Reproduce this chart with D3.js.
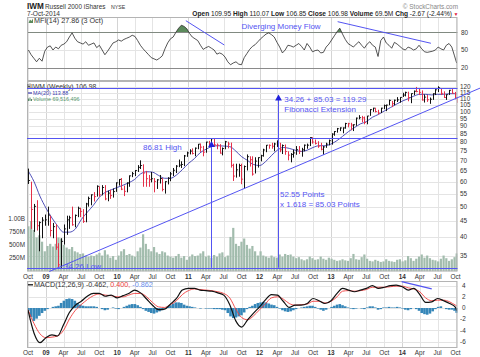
<!DOCTYPE html>
<html><head><meta charset="utf-8">
<script src="https://cdn.jsdelivr.net/npm/d3@7"></script>
<style>
html,body{margin:0;padding:0;background:#fff;}
svg{display:block;font-family:"Liberation Sans",Arial,sans-serif;}
</style></head><body>
<svg id="chart" width="480" height="357"></svg>
<script>
// ---------------- DATA ----------------
const firstBarDate = "2008-10-03";
const barStepDays = 14;
const lastBarDate = "2014-10-07";
const firstMonthDate = "2008-10-01";

const priceHigh = [66,60,51,52.4,44.9,46.3,47.2,50,46.8,44.4,
 44,38.3,39.7,43.9,46.8,46.8,50,47.2,50,49.6,
 49.1,51.4,53.8,54.7,55.6,58.4,58,58.5,58.5,56.2,
 56.6,57.1,59.7,61.1,61.6,58.3,59.7,62.8,64.4,65.3,
 67.7,70.1,68.1,64.9,63,64.4,61.6,61.1,63,61.6,
 60.2,62,64.4,66.3,67.7,70.5,69.6,72.9,74.7,76,
 76.5,77,79,79.3,77.9,80.3,80.8,82.5,82.2,79.3,
 78.9,77,80.8,80.3,79.8,68.4,68.4,68.4,68.4,67.5,
 73.2,72.2,72.2,71.7,71.7,73,76.3,78.4,78.7,79.7,
 79.7,81.1,79.7,78.7,78.7,74.9,73.9,75.8,77.8,77.8,
 76.8,78.7,79.2,83,83,81.6,80.6,79.7,77.8,79.7,
 81.6,85.4,86.8,88.8,89.2,89.2,92.2,92.2,92.2,91.2,
 95.8,97.5,97,96.5,97,101.9,102.9,102.9,101.4,102.9,
 105.3,105.3,109.2,108.2,109.2,111.2,111.2,114.8,115.7,115.7,
 114.3,116.7,119.8,118.8,116.8,113.4,112.9,110.9,114.4,117.9,
 120.4,118.4,116,113.5,117.2,118,115.5,111];
const priceLow = [59,42.5,41.6,42,36.1,39.7,43.5,43.5,40.2,39.7,
 36.5,32.1,32.0,37.9,40.7,42.5,43.5,43,46.3,46.3,
 44.4,44.6,50,50.5,51.9,53.8,53.8,54.3,52.4,52,
 52.9,53.4,55.7,58.3,56.4,54,55.5,57.8,62,62.5,
 64.4,65.8,57.8,57.8,57.8,59.7,55.5,56.9,59.2,55.9,
 55,58.8,60.2,62.5,63.9,66.7,66.3,67.2,71.9,73.2,
 73.2,72.2,76,74.6,72.2,74.1,77.4,77,77.4,76,
 73.6,72.7,76,76.5,66.5,60.3,61.8,62.2,58.9,57,
 65.1,67,62.7,63.7,66.5,69.6,72,74.4,76.3,76.3,
 74.9,77.3,74.4,73.4,73,70.1,69.1,71.5,73,73.4,
 72,74.9,76.3,77.8,79.2,78.7,76.8,75.4,73,76.8,
 78.2,78.6,83.9,85.8,86.8,85.4,88.3,89.2,87.3,86.8,
 90.2,94.6,92.6,91.2,91.2,97,99.9,99.5,98,99,
 101.9,100.4,104.8,103.4,104.8,107.3,106.8,111.3,111.8,107.9,
 106.4,112.8,115.3,112.9,108.4,106.9,107.4,105.9,109,112.9,
 115.4,112.9,110.5,109,113,114,109.5,106.85];
const priceClose = [60.5,49.0,50.1,43.5,44.5,45.3,45.4,47.0,42.0,43.2,
 37.2,32.7,38.8,42.5,45.4,46.1,43.8,46.9,49.4,48.3,
 44.9,51.0,53.1,54.5,53.8,58.0,54.5,57.5,52.9,55.2,
 54.2,55.8,59.5,61.0,56.8,55.9,59.4,62.6,63.6,65.1,
 66.6,67.5,63.9,61.3,60.9,61.3,60.1,60.8,61.4,56.7,
 60.0,61.5,63.5,65.2,67.2,67.7,68.0,72.4,74.0,75.0,
 73.7,76.6,78.9,77.2,74.4,80.1,78.3,82.1,78.5,78.3,
 73.9,76.4,80.3,79.0,67.6,62.5,65.4,67.5,61.1,67.0,
 72.0,70.4,63.4,69.7,71.5,72.5,75.6,78.3,78.2,77.7,
 79.0,79.5,75.7,78.1,74.8,72.8,73.2,74.0,75.8,74.9,
 75.7,78.3,78.3,82.8,80.1,79.3,77.8,76.0,77.3,78.9,
 80.9,84.9,86.5,88.3,88.8,88.8,91.7,91.6,90.7,90.9,
 95.4,95.7,95.6,92.4,96.9,101.5,102.6,100.1,99.0,102.6,
 104.5,104.9,108.6,106.0,108.7,109.0,111.0,112.9,115.1,110.9,
 114.1,116.1,115.8,115.1,108.9,111.2,109.1,109.5,114.0,117.3,
 119.1,114.3,110.9,113.2,116.9,114.4,110.6,106.98];
const volumeM = [850,950,780,640,680,560,380,480,520,470,
 520,640,620,500,450,420,460,380,360,330,
 340,300,280,300,290,320,350,300,400,320,
 260,290,220,300,380,420,310,330,300,280,
 380,450,700,520,420,380,460,360,330,380,
 360,300,280,260,290,330,260,290,220,280,
 320,290,300,340,380,280,300,260,310,280,
 340,360,270,300,650,820,520,480,560,620,
 500,430,480,380,300,380,300,280,260,300,
 270,260,320,280,330,310,320,280,250,270,
 230,210,230,280,250,220,230,280,240,220,
 260,240,220,200,210,230,210,200,250,330,
 230,220,270,320,240,200,190,220,200,180,
 190,230,200,190,180,220,230,190,210,290,
 250,200,240,280,320,260,300,250,220,210,
 190,240,300,250,200,230,270,340];
const mfiValues = [50,42,36,30,36,31,48,55,57,50,
 55,52,58,60,64,72,79,70,64,62,
 60,64,58,60,62,54,58,50,42,48,
 55,62,64,67,65,68,70,72,75,73,
 66,58,52,47,42,37,35,33,36,40,
 52,62,69,72,80,87,92,90,86,78,
 72,69,66,58,51,54,56,53,50,43,
 45,43,38,30,25,28,30,26,25,37,
 44,51,56,59,64,69,73,77,79,76,
 72,63,55,45,50,58,57,55,58,61,
 56,50,61,55,47,49,50,45,46,55,
 60,67,74,81,87,77,68,61,58,55,
 60,64,58,53,60,64,58,55,39,66,
 72,62,58,53,63,60,56,52,50,55,
 53,50,52,58,52,47,46,47,48,50,
 55,52,50,58,61,55,40,27.86];
const macdHist = [-0.5,-1.6,-2.3,-1.9,-1.4,-0.9,-0.5,-0.2,0.0,0.2,
 0.3,0.4,0.9,1.3,1.6,1.7,1.6,1.3,0.9,0.6,
 0.4,0.3,0.3,0.3,0.3,0.2,0.0,-0.2,-0.4,-0.3,
 0.0,0.1,-0.1,-0.2,0.0,0.2,0.4,0.6,0.7,0.7,
 0.5,0.2,-0.2,-0.5,-0.7,-0.9,-1.0,-0.8,-0.6,-0.4,
 -0.1,0.2,0.5,0.8,1.0,1.0,0.9,0.6,0.4,0.3,
 0.2,0.1,0.0,-0.1,0.0,-0.1,-0.1,-0.1,-0.2,-0.2,
 -0.2,-0.3,-0.4,-0.9,-1.5,-1.8,-1.7,-1.5,-1.3,-0.8,
 -0.2,0.2,0.4,0.7,0.9,1.0,1.1,1.0,0.8,0.6,
 0.5,0.2,-0.1,-0.4,-0.6,-0.7,-0.6,-0.4,-0.2,0.0,
 0.1,0.2,0.3,0.4,0.4,0.2,-0.1,-0.3,-0.5,-0.3,
 0.0,0.2,0.4,0.6,0.7,0.5,0.3,0.1,-0.1,-0.2,
 -0.1,0.0,-0.1,-0.2,0.1,0.3,0.3,0.1,-0.3,-0.2,
 0.1,0.1,0.2,0.1,0.1,0.2,0.1,-0.1,-0.3,-0.4,
 -0.2,0.0,-0.2,-0.5,-0.9,-1.1,-1.2,-1.0,-0.6,-0.2,
 0.2,0.3,0.0,-0.2,-0.3,-0.3,-0.5,-0.862];

// monthly (first of month, last point = last bar date)
const maValues = [65,60,54,49.5,46,43.5,41.5,41.5,42.5,45.5,
 48,50.5,53.5,55.5,56.5,57.5,58.5,59.5,61,63.5,
 64.5,64.3,62.8,61.5,61.5,63,65.5,68.5,71,74,
 76,77.5,78,77.8,77.5,75,72,70,68,67.5,
 69.5,72.5,75.5,77,76.5,75.5,74.8,75.5,77,78,
 78,79,81,83.5,86.5,89,91.5,93,96,98,
 100.5,103,105.5,108,110,112,113.5,113.5,113,113.5,
 113.5,114,114,113.88];
const macdValues = [-0.4,-4.5,-6.2,-5.3,-4.8,-5.0,-3.0,-0.8,0.5,1.2,
 2.1,2.6,2.6,2.1,2.3,1.8,2.2,2.6,3.2,2.7,
 1.6,0.5,-0.3,-0.2,0.7,1.7,3.2,3.5,3.5,3.2,
 3.1,3.0,2.7,2.3,0.6,-2.3,-3.4,-2.1,-0.9,0.2,
 1.5,2.4,2.3,1.2,0.1,0.5,0.5,0.8,1.7,1.3,
 0.8,1.3,2.6,3.5,3.2,2.9,3.2,3.5,4.0,3.5,
 3.7,4.0,4.1,3.8,3.2,3.5,2.4,1.0,1.1,1.7,
 1.3,0.8,0.1,-0.462];
const signalValues = [-0.3,-2.8,-4.6,-5.3,-5.2,-5.0,-4.0,-2.0,-0.4,0.6,
 1.5,2.2,2.5,2.3,2.2,2.0,2.0,2.3,2.6,2.6,
 2.0,1.0,0.2,0.1,0.6,1.3,2.4,3.1,3.4,3.3,
 3.2,3.1,2.9,2.6,1.8,-0.2,-1.7,-2.1,-1.4,-0.3,
 0.8,1.8,2.0,1.6,0.8,0.5,0.6,0.7,1.2,1.2,
 0.9,1.2,2.0,3.0,3.1,3.0,3.1,3.3,3.7,3.7,
 3.7,3.8,3.9,3.9,3.6,3.4,2.9,1.8,1.3,1.4,
 1.4,1.1,0.5,0.400];

// ticks
const priceTicks = [120,115,110,105,100,95,90,85,80,75,70,65,60,55,50,45,40,35];
const mfiTicks = [80,50,20];
const macdTicks = [4,2,0,-2,-4,-6];
const volTicks = [1000,750,500,250];
const volTickLabels = ["1.00B","750M","500M","250M"];

// header texts
const headerFields = [["Open","109.95"],["High","110.07"],["Low","106.85"],["Close","106.98"],["Volume","69.5M"],["Chg","-2.67 (-2.44%)"]];

// annotation levels / anchors (as drawn on the picture)
const fibTargetLevel = 119.29;
const swingHighLevel = 82.4;
const swingLowLevel = 32.0;
const trendAnchors = [["2009-03-09",32.1],["2014-08-08",106.5]];
const vLine1 = {date:"2011-04-29", top:80.7};
const vLine2 = {date:"2012-04-06", top:113.4};
const mfiDivLines = [[["2010-12-19",99.7],["2011-07-04",58.5]],[["2013-02-04",98],["2014-05-28",61.4]]];
const macdDivLine = [["2013-12-29",4.7],["2014-06-01",3.4]];

// ---------------- CHART ----------------
const parseDate = d3.timeParse("%Y-%m-%d");
const n = priceClose.length;
[priceHigh, priceLow, volumeM, mfiValues, macdHist].forEach((a,k)=>{ if(a.length!==n) throw new Error("len mismatch "+k+" "+a.length); });
[macdValues, signalValues].forEach((a,k)=>{ if(a.length!==maValues.length) throw new Error("mlen mismatch "+k+" "+a.length); });

const barDates = priceClose.map((_, i) => i === n-1 ? parseDate(lastBarDate) : d3.timeDay.offset(parseDate(firstBarDate), barStepDays*i));
const monthDates = maValues.map((_, i) => i === maValues.length-1 ? parseDate(lastBarDate) : d3.timeMonth.offset(parseDate(firstMonthDate), i));

const svg = d3.select("#chart");
const plotL = 27, plotR = 457.5;
const P = {mfi:{top:17,bottom:81}, price:{top:81,bottom:271.5}, macd:{top:281,bottom:348}};

const x = d3.scaleTime().domain([new Date(2008,9,1), new Date(2014,9,1)]).range([28, 455.5]);
const yPrice = d3.scaleLog().domain([35,120]).range([255.5,86.7]);
const yVol = d3.scaleLinear().domain([0,1000]).range([271.5,218.3]);
const yMfi = d3.scaleLinear().domain([20,80]).range([67.7,32.3]);
const yMacd = d3.scaleLinear().domain([-6,4]).range([341.6,285.6]);

const annColor = "#5454f2";
const gridColor = "#e4e4e4";

svg.append("rect").attr("width",480).attr("height",357).attr("fill","#fff");

const defs = svg.append("defs");
Object.entries(P).forEach(([k,p])=>{
  defs.append("clipPath").attr("id","clip-"+k).append("rect")
    .attr("x",plotL).attr("y",p.top).attr("width",plotR-plotL).attr("height",p.bottom-p.top);
});

const quarters = d3.timeMonth.every(3).range(new Date(2008,9,1), new Date(2014,9,2));

// panel grids
Object.entries(P).forEach(([k,p])=>{
  const g = svg.append("g").attr("clip-path","url(#clip-"+k+")");
  g.selectAll("line.vg").data(quarters).join("line")
    .attr("x1",d=>Math.round(x(d))+0.5).attr("x2",d=>Math.round(x(d))+0.5)
    .attr("y1",p.top).attr("y2",p.bottom)
    .attr("stroke", d=>d.getMonth()===0 ? "#d4d4d4" : gridColor).attr("stroke-width",1);
});

// horizontal grids
const gH = svg.append("g");
gH.selectAll("line.pg").data(priceTicks).join("line")
  .attr("x1",plotL).attr("x2",plotR)
  .attr("y1",d=>Math.round(yPrice(d))+0.5).attr("y2",d=>Math.round(yPrice(d))+0.5)
  .attr("stroke",gridColor);
gH.selectAll("line.mg").data(mfiTicks).join("line")
  .attr("x1",plotL).attr("x2",plotR)
  .attr("y1",d=>Math.round(yMfi(d))+0.5).attr("y2",d=>Math.round(yMfi(d))+0.5)
  .attr("stroke",d=>d===50?gridColor:"#8a8a8a");
gH.selectAll("line.cg").data(macdTicks).join("line")
  .attr("x1",plotL).attr("x2",plotR)
  .attr("y1",d=>Math.round(yMacd(d))+0.5).attr("y2",d=>Math.round(yMacd(d))+0.5)
  .attr("stroke",gridColor);

// ---- MFI panel
const gM = svg.append("g").attr("clip-path","url(#clip-mfi)");
const mfiPts = mfiValues.map((v,i)=>({d:barDates[i], v}));
defs.append("clipPath").attr("id","clip-ob").append("rect")
  .attr("x",plotL).attr("y",P.mfi.top).attr("width",plotR-plotL).attr("height",yMfi(80)-P.mfi.top);
gM.append("path").datum(mfiPts)
  .attr("clip-path","url(#clip-ob)")
  .attr("d", d3.area().x(d=>x(d.d)).y0(yMfi(80)).y1(d=>yMfi(d.v)))
  .attr("fill","#5b8a5b");
gM.append("path").datum(mfiPts)
  .attr("d", d3.line().x(d=>x(d.d)).y(d=>yMfi(d.v)))
  .attr("fill","none").attr("stroke","#2a2a2a").attr("stroke-width",0.8);

// ---- Price panel
const gP = svg.append("g").attr("clip-path","url(#clip-price)");
gP.selectAll("rect.vol").data(volumeM).join("rect")
  .attr("x",(v,i)=>x(barDates[i])-1.1).attr("width",2.2)
  .attr("y",v=>yVol(v)).attr("height",v=>yVol(0)-yVol(v))
  .attr("fill","#a2bcad");
const maPts = maValues.map((v,i)=>({d:monthDates[i], v}));
gP.append("path").datum(maPts)
  .attr("d", d3.line().curve(d3.curveMonotoneX).x(d=>x(d.d)).y(d=>yPrice(d.v)))
  .attr("fill","none").attr("stroke","#3c3cb0").attr("stroke-width",0.9);
const bars = priceClose.map((c,i)=>({d:barDates[i], h:priceHigh[i], l:priceLow[i], c, up: i===0 || c>=priceClose[i-1]}));
const gb = gP.append("g");
bars.forEach(b=>{
  const xx = Math.round(x(b.d))+0.5;
  const col = b.up ? "#111" : "#e5304a";
  gb.append("line").attr("x1",xx).attr("x2",xx).attr("y1",yPrice(b.h)).attr("y2",yPrice(b.l)).attr("stroke",col).attr("stroke-width",1);
  gb.append("line").attr("x1",xx).attr("x2",xx+1.6).attr("y1",yPrice(b.c)).attr("y2",yPrice(b.c)).attr("stroke",col).attr("stroke-width",0.9);
});

// ---- MACD panel
const gC = svg.append("g").attr("clip-path","url(#clip-macd)");
gC.selectAll("rect.h").data(macdHist).join("rect")
  .attr("x",(v,i)=>x(barDates[i])-1.3).attr("width",2.6)
  .attr("y",v=>Math.min(yMacd(v),yMacd(0))).attr("height",v=>Math.abs(yMacd(v)-yMacd(0)))
  .attr("fill","#3586b8");
const sigPts = signalValues.map((v,i)=>({d:monthDates[i], v}));
const macdPts = macdValues.map((v,i)=>({d:monthDates[i], v}));
gC.append("path").datum(sigPts)
  .attr("d", d3.line().curve(d3.curveMonotoneX).x(d=>x(d.d)).y(d=>yMacd(d.v)))
  .attr("fill","none").attr("stroke","#f03c3c").attr("stroke-width",0.9);
gC.append("path").datum(macdPts)
  .attr("d", d3.line().curve(d3.curveMonotoneX).x(d=>x(d.d)).y(d=>yMacd(d.v)))
  .attr("fill","none").attr("stroke","#111").attr("stroke-width",1.2);

// panel borders
Object.values(P).forEach(p=>{
  svg.append("rect").attr("x",plotL+0.5).attr("y",p.top+0.5).attr("width",plotR-plotL-1).attr("height",p.bottom-p.top-1)
    .attr("fill","none").attr("stroke","#b4b4b4");
});

// ---- axis labels
const tickFont = 6.4;
svg.append("g").selectAll("text").data(priceTicks).join("text")
  .attr("x",460).attr("y",d=>yPrice(d)+2.2).attr("font-size",tickFont).attr("fill","#333").text(d=>d);
svg.append("g").selectAll("text").data(mfiTicks).join("text")
  .attr("x",461).attr("y",d=>yMfi(d)+2.2).attr("font-size",tickFont).attr("fill","#333").text(d=>d);
svg.append("g").selectAll("text").data(macdTicks).join("text")
  .attr("x",d=>d<0?460:462).attr("y",d=>yMacd(d)+2.2).attr("font-size",tickFont).attr("fill","#333").text(d=>d);
svg.append("g").selectAll("text").data(volTicks).join("text")
  .attr("x",25).attr("y",d=>yVol(d)+2.2).attr("text-anchor","end").attr("font-size",tickFont).attr("fill","#333")
  .text((d,i)=>volTickLabels[i]);

[278.8, 355.2].forEach(yy=>{
  svg.append("g").selectAll("text").data(quarters).join("text")
    .attr("x",d=>x(d)).attr("y",yy).attr("text-anchor","middle").attr("font-size",tickFont)
    .attr("font-weight",d=>d.getMonth()===0?"bold":"normal").attr("fill","#333")
    .text(d=>d.getMonth()===0 ? d3.timeFormat("%y")(d) : d3.timeFormat("%b")(d));
});

// ---- header
svg.append("text").attr("x",27).attr("y",9).attr("font-size",8.2).attr("font-weight","bold").attr("fill","#222").text("IWM");
svg.append("text").attr("x",45).attr("y",9).attr("font-size",6.4).attr("fill","#333").text("Russell 2000 iShares");
svg.append("text").attr("x",111).attr("y",9).attr("font-size",5.2).attr("fill","#333").text("NYSE");
svg.append("text").attr("x",27).attr("y",15.8).attr("font-size",6.6).attr("fill","#333").text("7-Oct-2014");
svg.append("text").attr("x",458).attr("y",8.5).attr("text-anchor","end").attr("font-size",6.4).attr("fill","#888").text("© StockCharts.com");
const ohlc = svg.append("text").attr("x",452).attr("y",15.8).attr("text-anchor","end").attr("font-size",6.6).attr("fill","#222");
headerFields.forEach(([k,v],i)=>{
  ohlc.append("tspan").attr("font-weight","bold").text(k+" ");
  ohlc.append("tspan").text(v + (i<headerFields.length-1?" ":""));
});
svg.append("text").attr("x",453.5).attr("y",15.5).attr("font-size",5).attr("fill","#e0203a").text("▼");

// legends
svg.append("path").attr("d","M28.5,23 L30,19.5 L31.5,21 L33,18.5 L33,23 Z").attr("fill","#5b8a5b");
svg.append("text").attr("x",34).attr("y",23.2).attr("font-size",7.2).attr("fill","#333").text("MFI(14) 27.86 (3 Oct)");

svg.append("path").attr("d","M28,88.5 L28,84 M28,86.5 L30,86.5 M30,83.5 L30,88").attr("stroke","#333").attr("stroke-width",0.7).attr("fill","none");
svg.append("text").attr("x",31).attr("y",88.6).attr("font-size",6.8).attr("fill","#333").text("IWM (Weekly) 106.98");
svg.append("line").attr("x1",28).attr("x2",32).attr("y1",93).attr("y2",93).attr("stroke","#3c3cb0").attr("stroke-width",1.2);
svg.append("text").attr("x",33).attr("y",95).attr("font-size",5.4).attr("fill","#3c3cb0").text("MA(20) 113.88");
svg.append("path").attr("d","M28.5,101 V98.5 M30,101 V97.5 M31.5,101 V99").attr("stroke","#5a8a6a").attr("stroke-width",1);
svg.append("text").attr("x",33).attr("y",101.2).attr("font-size",5.4).attr("fill","#5a9a70").text("Volume 69,516,496");

svg.append("line").attr("x1",28).attr("x2",33).attr("y1",284.8).attr("y2",284.8).attr("stroke","#111").attr("stroke-width",1.3);
const ml = svg.append("text").attr("x",34).attr("y",287.4).attr("font-size",7.2).attr("fill","#333");
ml.append("tspan").text("MACD(12,26,9) ");
ml.append("tspan").text("-0.462, ");
ml.append("tspan").attr("fill","#f03c3c").text("0.400, ");
ml.append("tspan").attr("fill","#6a8ff0").text("-0.862");

// ---- annotations
const ann = svg.append("g").attr("stroke",annColor).attr("fill","none").attr("stroke-width",1);
[fibTargetLevel, swingHighLevel, swingLowLevel].forEach(v=>{
  const yy = Math.round(yPrice(v))+0.5;
  ann.append("line").attr("x1",plotL).attr("x2",plotR).attr("y1",yy).attr("y2",yy);
});
// trendline (extended to panel bottom and image edge)
const tA = [x(parseDate(trendAnchors[0][0])), yPrice(trendAnchors[0][1])];
const tB = [x(parseDate(trendAnchors[1][0])), yPrice(trendAnchors[1][1])];
const slope = (tB[1]-tA[1])/(tB[0]-tA[0]);
const xStart = tA[0] + (P.price.bottom - tA[1])/slope;
ann.append("line").attr("x1",xStart).attr("y1",P.price.bottom).attr("x2",480).attr("y2",tA[1]+slope*(480-tA[0]));
// vertical lines + triangles
[vLine1, vLine2].forEach(vl=>{
  const xx = Math.round(x(parseDate(vl.date)))+0.5;
  const yt = yPrice(vl.top);
  ann.append("line").attr("x1",xx).attr("x2",xx).attr("y1",yt+5).attr("y2",yPrice(swingLowLevel));
  svg.append("path").attr("d",`M${xx},${yt} L${xx-3.4},${yt+6} L${xx+3.4},${yt+6} Z`).attr("fill","#2222dd");
});
// MFI / MACD divergence lines
mfiDivLines.forEach(seg=>{
  ann.append("line").attr("x1",x(parseDate(seg[0][0]))).attr("y1",yMfi(seg[0][1]))
    .attr("x2",x(parseDate(seg[1][0]))).attr("y2",yMfi(seg[1][1]));
});
ann.append("line").attr("x1",x(parseDate(macdDivLine[0][0]))).attr("y1",yMacd(macdDivLine[0][1]))
  .attr("x2",x(parseDate(macdDivLine[1][0]))).attr("y2",yMacd(macdDivLine[1][1])).attr("stroke-width",1.3);

const annText = (t,xx,yy)=>svg.append("text").attr("x",xx).attr("y",yy).attr("font-size",8).attr("fill",annColor).text(t);
annText("Diverging Money Flow", 241.5, 28.5);
annText("86.81 High", 143, 149.5);
annText("34.26 + 85.03 = 119.29", 284.3, 102.2);
annText("Fibonacci Extension", 284.3, 112.2);
annText("52.55 Points", 280, 197);
annText("x 1.618 = 85.03 Points", 280, 207.3);
annText("34.26 Low", 64, 268.6);
</script>
</body></html>
